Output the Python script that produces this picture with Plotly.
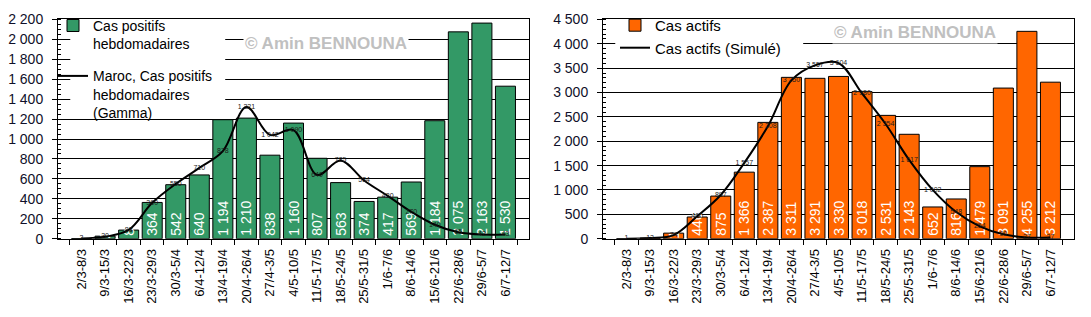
import plotly.graph_objects as go

weeks = ["2/3-8/3", "9/3-15/3", "16/3-22/3", "23/3-29/3", "30/3-5/4", "6/4-12/4",
         "13/4-19/4", "20/4-26/4", "27/4-3/5", "4/5-10/5", "11/5-17/5", "18/5-24/5",
         "25/5-31/5", "1/6-7/6", "8/6-14/6", "15/6-21/6", "22/6-28/6", "29/6-5/7", "6/7-12/7"]
pos_weekly = [2, 26, 87, 364, 542, 640, 1194, 1210, 838, 1160, 807, 563, 374, 417, 569,
              1184, 2075, 2163, 1530]
pos_gamma = [3, 20, 88, 360, 550, 710, 878, 1321, 1042, 1090, 640, 785, 584, 430, 270,
             140, 65, 42, 43]
active = [2, 15, 115, 446, 875, 1366, 2387, 3311, 3291, 3330, 3018, 2531, 2143, 652, 816,
          1479, 3091, 4255, 3212]
active_sim = [1, 13, 74, 460, 897, 1557, 2308, 3250, 3557, 3604, 2980, 2354, 1617, 1002,
              548, 254, 90, 27, 27]

FONT = "Liberation Sans, Arial, sans-serif"
W, H = 1091, 317

fig = go.Figure()

bar_common = dict(
    texttemplate="%{y:,}", textposition="inside", insidetextanchor="start",
    textangle=-90, textfont=dict(family=FONT, size=14, color="white"),
    marker_line=dict(color="black", width=1), cliponaxis=False, constraintext="none",
)
line_common = dict(
    mode="lines+text", line=dict(color="black", width=2, shape="spline", smoothing=1),
    texttemplate="%{y:,}", textposition="middle center",
    textfont=dict(family=FONT, size=7, color="#1a1a1a"), cliponaxis=False,
)

fig.add_trace(go.Bar(x=weeks, y=pos_weekly, name="Cas positifs<br>hebdomadaires",
                     marker_color="#339966", xaxis="x", yaxis="y", legend="legend",
                     legendgroup="a", **bar_common))
fig.add_trace(go.Scatter(x=weeks, y=pos_gamma,
                         name="Maroc, Cas positifs<br>hebdomadaires<br>(Gamma)",
                         xaxis="x", yaxis="y", legend="legend", legendgroup="b",
                         **line_common))
fig.add_trace(go.Bar(x=weeks, y=active, name="Cas actifs", marker_color="#FF6600",
                     xaxis="x2", yaxis="y2", legend="legend2", **bar_common))
fig.add_trace(go.Scatter(x=weeks, y=active_sim, name="Cas actifs (Simulé)",
                         xaxis="x2", yaxis="y2", legend="legend2", **line_common))

ydom = [(H - 243) / H, (H - 12) / H]
xdom1 = [58 / W, 529 / W]
xdom2 = [603 / W, 1074 / W]

xcommon = dict(
    type="category", tickangle=-90, ticks="outside", ticklen=5, tickcolor="black",
    tickson="boundaries", showline=True, linecolor="black", linewidth=1, mirror=True,
    showgrid=False, tickfont=dict(family=FONT, size=13, color="black"), fixedrange=True,
    ticklabelstandoff=4,
)
ycommon = dict(
    showline=True, linecolor="black", linewidth=1, mirror=True,
    ticks="outside", ticklen=5, tickcolor="black",
    showgrid=True, gridcolor="black", gridwidth=1, zeroline=False,
    separatethousands=True, ticklabelstandoff=6,
    tickfont=dict(family=FONT, size=14, color="#10102a"), fixedrange=True,
)

# white panels under the legends (hide gridlines there, as in the original)
shapes = [
    dict(type="rect", xref="x", yref="y", x0=-0.48, x1=6.1, y0=1260, y1=2190,
         fillcolor="white", line_width=0, layer="between"),
    dict(type="rect", xref="x2", yref="y2", x0=-0.48, x1=7.5, y0=3700, y1=4480,
         fillcolor="white", line_width=0, layer="between"),
]

fig.update_layout(
    width=W, height=H,
    margin=dict(l=0, r=0, t=0, b=0),
    paper_bgcolor="white", plot_bgcolor="white",
    separators=", ",
    bargap=0.15,
    font=dict(family=FONT, color="black"),
    xaxis=dict(domain=xdom1, anchor="y", **xcommon),
    yaxis=dict(domain=ydom, anchor="x", range=[0, 2200], dtick=200,
               minor=dict(dtick=50, ticks="inside", ticklen=3, tickcolor="black",
                          showgrid=False), **ycommon),
    xaxis2=dict(domain=xdom2, anchor="y2", **xcommon),
    yaxis2=dict(domain=ydom, anchor="x2", range=[0, 4500], dtick=500,
                minor=dict(dtick=100, ticks="inside", ticklen=3, tickcolor="black",
                           showgrid=False), **ycommon),
    legend=dict(x=53 / W, y=(H - 2) / H, xanchor="left", yanchor="top",
                bgcolor="rgba(0,0,0,0)", borderwidth=0, valign="top", tracegroupgap=11,
                itemwidth=30, font=dict(family=FONT, size=14, color="black"),
                traceorder="grouped"),
    legend2=dict(x=615 / W, y=(H - 1) / H, xanchor="left", yanchor="top",
                 bgcolor="rgba(0,0,0,0)", borderwidth=0, valign="top", itemwidth=30,
                 font=dict(family=FONT, size=15, color="black")),
    showlegend=True,
    shapes=shapes,
    annotations=[
        dict(text="© Amin BENNOUNA", x=326 / W, y=(H - 37) / H, xref="paper", yref="paper",
             xanchor="center", yanchor="middle",
             showarrow=False, bgcolor="white",
             font=dict(family=FONT, size=17, color="#c0c0c0", weight="bold")),
        dict(text="© Amin BENNOUNA", x=915 / W, y=(H - 26) / H, xref="paper", yref="paper",
             xanchor="center", yanchor="middle",
             showarrow=False, bgcolor="white",
             font=dict(family=FONT, size=17, color="#c0c0c0", weight="bold")),
    ],
)

fig.write_html("out.html")
